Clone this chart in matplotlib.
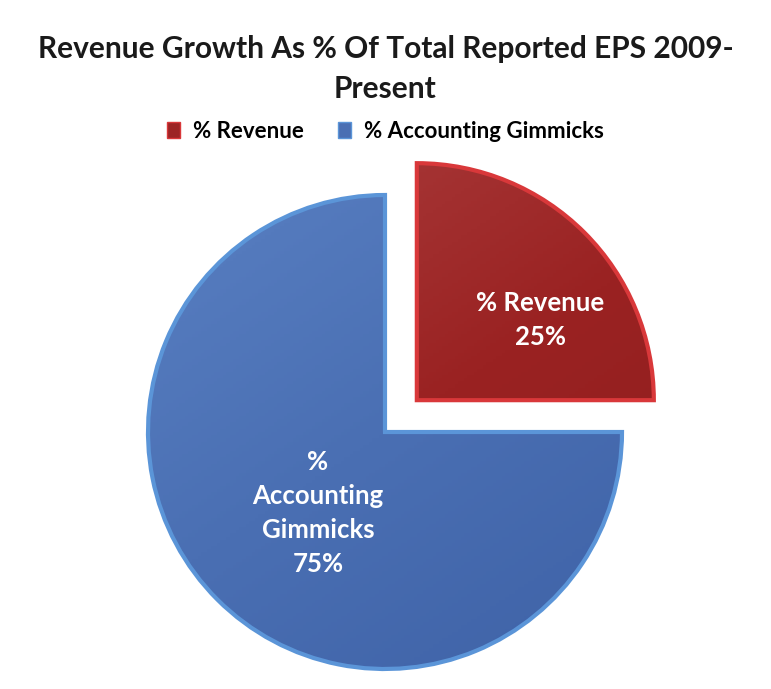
import numpy as np
import matplotlib
matplotlib.use("Agg")
import matplotlib.pyplot as plt
from matplotlib.colors import LinearSegmentedColormap

title = "Revenue Growth As % Of Total Reported EPS 2009-\nPresent"
categories = ["% Revenue", "% Accounting Gimmicks"]
shares = [25, 75]
slice_labels = ["% Revenue\n25%", "%\nAccounting\nGimmicks\n75%"]

W, H = 771, 689
fig = plt.figure(figsize=(W / 100, H / 100), dpi=100)
ax = fig.add_axes([0, 0, 1, 1])

fonts = ["Lato", "DejaVu Sans"]
face = ["#9c2424", "#4a6fb3"]
rim = ["#d9383a", "#5b95d8"]

# pie placed in pixel units; explode is an absolute offset here
cx, cy, r = 385, H - 432, 237
wedges, _ = ax.pie(shares, colors=face, startangle=0, counterclock=True,
                   explode=[45, 0], center=(cx, cy), radius=r,
                   wedgeprops=dict(linewidth=3), frame=True)
for w, e in zip(wedges, rim):
    w.set_edgecolor(e)

# soft shading inside each slice
grads = [["#b04646", "#9a2222", "#8a1c1c"], ["#5d84c6", "#4a6fb3", "#3b5ea3"]]
for w, g in zip(wedges, grads):
    cmap = LinearSegmentedColormap.from_list("s", g)
    yy, xx = np.mgrid[0:1:200j, 0:1:200j]
    img = ax.imshow(yy * 0.6 + xx * 0.4, cmap=cmap, origin="upper",
                    extent=(cx - r - 80, cx + r + 80, cy - r - 80, cy + r + 80),
                    zorder=w.get_zorder() - 0.01, aspect="auto")
    img.set_clip_path(w)
    w.set_facecolor("none")
ax.set_xlim(0, W)
ax.set_ylim(0, H)
ax.set_aspect("equal")
ax.axis("off")

ax.text(540, H - 320, slice_labels[0], ha="center", va="center", color="white",
        fontsize=18.5, fontweight="bold", family=fonts, linespacing=1.5, zorder=5)
ax.text(318, H - 513, slice_labels[1], ha="center", va="center", color="white",
        fontsize=18.5, fontweight="bold", family=fonts, linespacing=1.5, zorder=5)

fig.text(0.5, 1 - 69 / H, title, ha="center", va="center", fontsize=21.5,
         fontweight="bold", family=fonts, color="#1a1a1a", linespacing=1.5)

handles = [plt.Rectangle((0, 0), 1, 1, facecolor=f, edgecolor=e, lw=1)
           for f, e in zip(face, rim)]
fig.legend(handles, categories, loc="center", bbox_to_anchor=(0.5, 1 - 131 / H),
           ncol=2, frameon=False, handlelength=0.6, handleheight=0.7,
           handletextpad=0.6, columnspacing=1.5,
           prop=dict(family=fonts, weight="bold", size=16))

fig.savefig("out.png", dpi=100)
